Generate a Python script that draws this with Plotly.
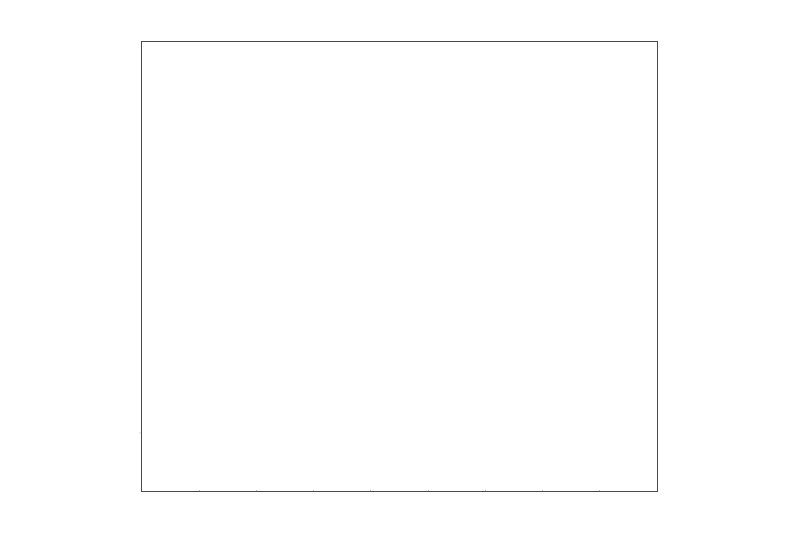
import plotly.graph_objects as go

# The reference shows only a framed, empty plot area with faint tick marks
x_tick_vals = [1, 2, 3, 4, 5, 6, 7, 8]
y_tick_vals = [0.13]
series_x = []
series_y = []

fig = go.Figure()
fig.add_trace(go.Scatter(x=series_x, y=series_y, mode="lines",
    line=dict(color="#444444", width=1), showlegend=False))

fig.update_layout(
    width=800, height=533,
    margin=dict(l=134, r=151, t=34, b=50),
    paper_bgcolor="white", plot_bgcolor="white",
    showlegend=False,
)
fig.update_xaxes(range=[0, 9], tickvals=x_tick_vals, showticklabels=False,
    ticks="inside", ticklen=1, tickcolor="#bbbbbb", tickwidth=1,
    showgrid=False, zeroline=False,
    showline=True, linecolor="#4a4a4a", linewidth=1.2, mirror=True)
fig.update_yaxes(range=[0, 1], tickvals=y_tick_vals, showticklabels=False,
    ticks="outside", ticklen=2, tickcolor="#eeeeee", tickwidth=2,
    showgrid=False, zeroline=False,
    showline=True, linecolor="#4a4a4a", linewidth=1.2, mirror=True)

fig.write_html("out.html")
